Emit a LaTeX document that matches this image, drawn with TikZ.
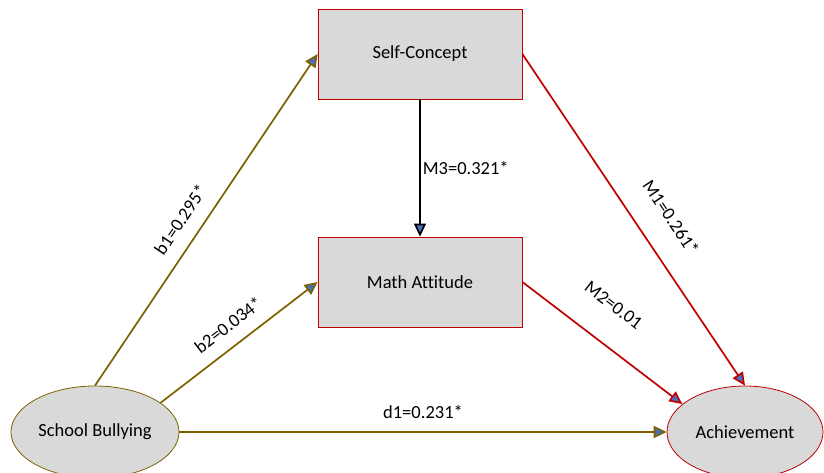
\documentclass[tikz,border=0pt]{standalone}
\usepackage{fontspec}
\setmainfont[Ligatures={NoCommon}]{Carlito}
\usetikzlibrary{arrows.meta,shapes.geometric}
\definecolor{olive}{HTML}{7F6000}
\definecolor{dred}{HTML}{C00000}
\definecolor{tipblue}{HTML}{4472C4}
\definecolor{boxgray}{HTML}{D9D9D9}
\tikzset{
  boxnode/.style={draw=dred, line width=0.8pt, fill=boxgray, minimum width=204pt, minimum height=90pt, inner sep=0pt},
  ellnode/.style={ellipse, line width=0.8pt, fill=boxgray, inner sep=0pt},
  conn/.style={line width=1.7pt, -{Triangle[length=13pt,width=12pt,fill=tipblue]}},
  lbl/.style={inner sep=0pt, text=black, font=\fontsize{18.5}{22}\selectfont}
}
\begin{document}
\begin{tikzpicture}[x=1pt,y=-1pt, font=\fontsize{18.5}{22}\selectfont]
\useasboundingbox (0,0) rectangle (824,473);
\node[boxnode] (sc) at (420,54) {Self-Concept};
\node[boxnode] (ma) at (420,282) {Math Attitude};
\node[ellnode, draw=olive, minimum width=168pt, minimum height=92pt] (sb) at (95,432) {School Bullying};
\node[ellnode, draw=dred, minimum width=156pt, minimum height=92pt] (ach) at (745,432) {Achievement};
\draw[conn, olive] (sb.north) -- node[lbl, sloped, above=14pt, pos=0.464] {b1=0.295*} (sc.west);
\draw[conn, olive] (sb.24) -- node[lbl, sloped, above=13pt, pos=0.51] {b2=0.034*} (ma.west);
\draw[conn, olive] (sb.east) -- node[lbl, above=13pt] {d1=0.231*} (ach.west);
\draw[conn, black] (sc.south) -- node[lbl, right=2pt] {M3=0.321*} (ma.north);
\draw[conn, dred] (sc.east) -- node[lbl, sloped, above=25pt, pos=0.547] {M1=0.261*} (ach.north);
\draw[conn, dred] (ma.east) -- node[lbl, sloped, above=30pt, pos=0.43] {M2=0.01} (ach.156);
\end{tikzpicture}
\end{document}
